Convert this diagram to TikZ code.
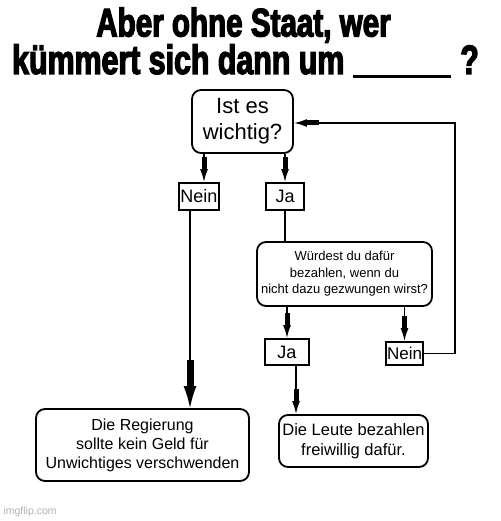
\documentclass[tikz,border=0pt]{standalone}
\usepackage{fontspec}
\setmainfont{Liberation Sans}
\newfontfamily\titlefont[FakeStretch=0.74,FakeBold=3]{Liberation Sans Bold}
\usetikzlibrary{arrows.meta}
\begin{document}
\begin{tikzpicture}[x=1pt,y=-1pt,
    frame/.style={draw,line width=1.8pt,rounded corners=9pt,align=center},
    answer/.style={draw,line width=1.8pt,inner sep=0pt},
    link/.style={line width=1.8pt},
    arrow/.style={link,-{Rectangle[length=12pt,width=5pt] Latex[length=13pt,width=8pt]}},
    bigarrow/.style={link,-{Rectangle[length=26pt,width=7pt] Latex[length=22pt,width=13pt]}}]
    \useasboundingbox[fill=white] (0,0) rectangle (500,521);
    % title
    \node[anchor=base,inner sep=0pt] (titel1) at (243.5,36.5) {\titlefont\fontsize{40}{44}\selectfont Aber ohne Staat, wer};
    \node[anchor=base west,inner sep=0pt] (titel2) at (12,74) {\titlefont\fontsize{41}{45}\selectfont k\"ummert sich dann um\hspace{9pt}\rule[-4pt]{98pt}{2.5pt}\hspace{9pt}?};
    % boxes
    \node[frame,minimum width=101pt,minimum height=63pt,font=\fontsize{22}{26}\selectfont] (ist) at (242.5,121.5) {Ist es\\wichtig?};
    \node[answer,minimum width=40pt,minimum height=27pt,font=\fontsize{18}{20}\selectfont] (nein1) at (199,196.5) {Nein};
    \node[answer,minimum width=38pt,minimum height=27pt,font=\fontsize{18}{20}\selectfont] (ja1) at (285,196.5) {Ja};
    \node[frame,minimum width=175pt,minimum height=64pt,font=\fontsize{13}{16.5}\selectfont] (frage) at (344.5,274) {W\"urdest du daf\"ur\\bezahlen, wenn du\\nicht dazu gezwungen wirst?};
    \node[answer,minimum width=44pt,minimum height=26pt,font=\fontsize{18}{20}\selectfont] (ja2) at (287,352) {Ja};
    \node[answer,minimum width=37pt,minimum height=23pt,font=\fontsize{17}{20}\selectfont] (nein2) at (404.5,353.5) {Nein};
    \node[frame,minimum width=213pt,minimum height=72pt,font=\fontsize{16}{19}\selectfont] (regierung) at (142.5,445) {Die Regierung\\sollte kein Geld f\"ur\\Unwichtiges verschwenden};
    \node[frame,minimum width=149pt,minimum height=52pt,inner sep=1pt,font=\fontsize{16.5}{20}\selectfont] (leute) at (353.5,441) {Die Leute bezahlen\\freiwillig daf\"ur.};
    \node[anchor=west,text=black!30,font=\fontsize{10.5}{12}\selectfont] (marke) at (0,512) {imgflip.com};
    % connectors
    \coordinate (rueck) at (455,123);
    \draw[arrow] ([xshift=5pt]nein1.north |- ist.south) -- ([xshift=5pt]nein1.north);
    \draw[arrow] (ja1.north |- ist.south) -- (ja1.north);
    \draw[link] (ja1.south) -- (ja1.south |- frage.north);
    \draw[bigarrow] ([xshift=-9pt]nein1.south) -- ([xshift=-9pt]nein1.south |- regierung.north);
    \draw[arrow] (ja2.north |- frage.south) -- (ja2.north);
    \draw[arrow] (nein2.north |- frage.south) -- (nein2.north);
    \draw[arrow] ([xshift=9pt]ja2.south) -- ([xshift=9pt]ja2.south |- leute.north);
    \draw[arrow] (nein2.east) -| (rueck) -- (ist.east |- rueck);
\end{tikzpicture}
\end{document}
